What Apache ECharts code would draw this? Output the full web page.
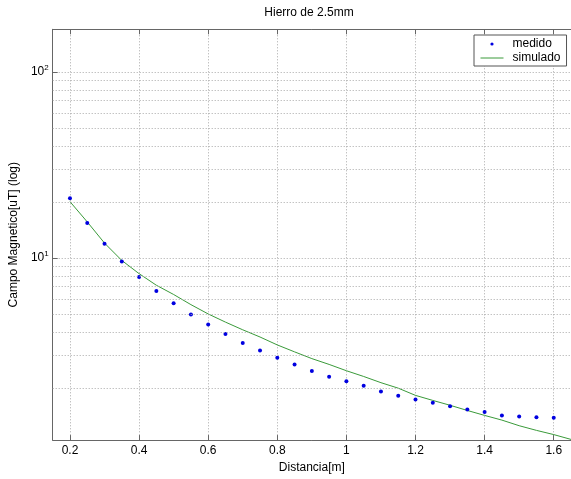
<!DOCTYPE html>
<html>
<head>
<meta charset="utf-8">
<script src="https://cdn.jsdelivr.net/npm/echarts@6/dist/echarts.min.js"></script>
<style>
  html, body { margin: 0; padding: 0; background: #fff; }
  #chart { width: 571px; height: 479px; }
</style>
</head>
<body>
<div id="chart"></div>
<script>
// distancia de las mediciones [m]
const distMedido = [0.2, 0.25, 0.3, 0.35, 0.4, 0.45, 0.5, 0.55, 0.6, 0.65, 0.7, 0.75, 0.8, 0.85, 0.9,
  0.95, 1.0, 1.05, 1.1, 1.15, 1.2, 1.25, 1.3, 1.35, 1.4, 1.45, 1.5, 1.55, 1.6]
// campo medido [uT]
const campoMedido = [20.9, 15.4, 11.9, 9.56, 7.89, 6.62, 5.69, 4.95, 4.38, 3.89, 3.48, 3.17, 2.90, 2.67, 2.46,
  2.29, 2.17, 2.05, 1.91, 1.81, 1.73, 1.66, 1.59, 1.53, 1.48, 1.42, 1.40, 1.39, 1.38]
// curva simulada
const distSimulado = [0.2, 0.25, 0.3, 0.35, 0.4, 0.45, 0.5, 0.55, 0.6, 0.65, 0.7, 0.75, 0.8, 0.85, 0.9,
  0.95, 1.0, 1.05, 1.1, 1.15, 1.2, 1.25, 1.3, 1.35, 1.4, 1.45, 1.5, 1.55, 1.6, 1.65]
const campoSimulado = [20.05, 15.6, 12.0, 9.68, 8.22, 7.12, 6.35, 5.60, 4.99, 4.51, 4.10, 3.75, 3.40, 3.12, 2.87,
  2.67, 2.47, 2.30, 2.13, 1.99, 1.82, 1.71, 1.61, 1.51, 1.42, 1.34, 1.25, 1.18, 1.12, 1.055]
// lineas menores de la grilla logaritmica
const minorGrid = [2, 3, 4, 5, 6, 7, 8, 9, 20, 30, 40, 50, 60, 70, 80, 90]

const font = 'Liberation Sans, Arial, sans-serif'
const gridDot = { color: '#a8a8a8', width: 1, type: [1, 2] }
const boxColor = '#666'

let chart = echarts.init(document.getElementById('chart'))
let option = {
  animation: false,
  textStyle: { fontFamily: font },
  title: {
    text: 'Hierro de 2.5mm',
    left: 309,
    top: 7,
    padding: 0,
    textAlign: 'center',
    textStyle: { fontSize: 12, fontWeight: 'normal', color: '#000', fontFamily: font }
  },
  legend: {
    orient: 'vertical',
    left: 474,
    top: 35,
    width: 93,
    padding: [3, 6, 2, 6],
    itemGap: 2,
    itemWidth: 23,
    itemHeight: 4,
    backgroundColor: '#fff',
    borderColor: '#555',
    borderWidth: 1,
    borderRadius: 0,
    textStyle: { fontSize: 12, color: '#000', fontFamily: font, padding: [0, 0, 0, 4] },
    data: [
      { name: 'medido' },
      {
        name: 'simulado',
        lineStyle: { width: 1 },
        itemStyle: { color: 'rgba(0,0,0,0)', borderWidth: 0, opacity: 0 }
      }
    ]
  },
  grid: {
    left: 47.5,
    right: -1,
    top: 29.3,
    bottom: 35,
    containLabel: false
  },
  xAxis: [
    {
      type: 'value',
      min: 0.15,
      max: 1.65,
      splitNumber: 7,
      name: 'Distancia[m]',
      nameLocation: 'middle',
      nameGap: 20,
      nameTextStyle: { fontSize: 12, color: '#000', fontFamily: font },
      axisLine: { show: true, lineStyle: { color: boxColor, width: 1 } },
      axisTick: { show: true, inside: true, length: 5, lineStyle: { color: boxColor } },
      axisLabel: { fontSize: 12, color: '#000', margin: 5, showMinLabel: false, showMaxLabel: false },
      splitLine: { show: true, lineStyle: gridDot }
    },
    {
      type: 'value',
      position: 'top',
      min: 0.15,
      max: 1.65,
      splitNumber: 7,
      axisLine: { show: true, lineStyle: { color: boxColor, width: 1 } },
      axisTick: { show: true, inside: true, length: 5, lineStyle: { color: boxColor } },
      axisLabel: { show: false },
      splitLine: { show: false }
    }
  ],
  yAxis: {
    type: 'log',
    logBase: 10,
    min: 1.046,
    max: 169.5,
    name: 'Campo Magnetico[uT] (log)',
    nameLocation: 'middle',
    nameGap: 22,
    nameTextStyle: { fontSize: 12, color: '#000', fontFamily: font },
    axisLine: { show: true, lineStyle: { color: boxColor, width: 1 } },
    axisTick: { show: true, inside: true, length: 5, lineStyle: { color: boxColor } },
    axisLabel: {
      margin: 4,
      showMinLabel: false,
      showMaxLabel: false,
      formatter: function (v) {
        return '10{s|' + Math.round(Math.log10(v)) + '}'
      },
      rich: {
        s: { fontSize: 8, color: '#000', verticalAlign: 'top', padding: [0, 0, 8, 0] }
      },
      fontSize: 12,
      color: '#000'
    },
    splitLine: { show: true, lineStyle: gridDot }
  },
  series: [
    {
      name: 'simulado',
      type: 'line',
      data: distSimulado.map((d, i) => [d, campoSimulado[i]]),
      showSymbol: false,
      symbol: 'none',
      color: '#3a9a3a',
      lineStyle: { color: '#3a9a3a', width: 1 },
      z: 3,
      markLine: {
        silent: true,
        symbol: ['none', 'none'],
        label: { show: false },
        lineStyle: gridDot,
        data: minorGrid.map(v => ({ yAxis: v }))
      }
    },
    {
      name: 'medido',
      type: 'line',
      data: distMedido.map((d, i) => [d, campoMedido[i]]),
      symbol: 'circle',
      symbolSize: 4,
      showSymbol: true,
      color: '#0000e0',
      itemStyle: { color: '#0000e0' },
      lineStyle: { width: 0 },
      z: 4
    }
  ]
}
chart.setOption(option)
</script>
</body>
</html>
